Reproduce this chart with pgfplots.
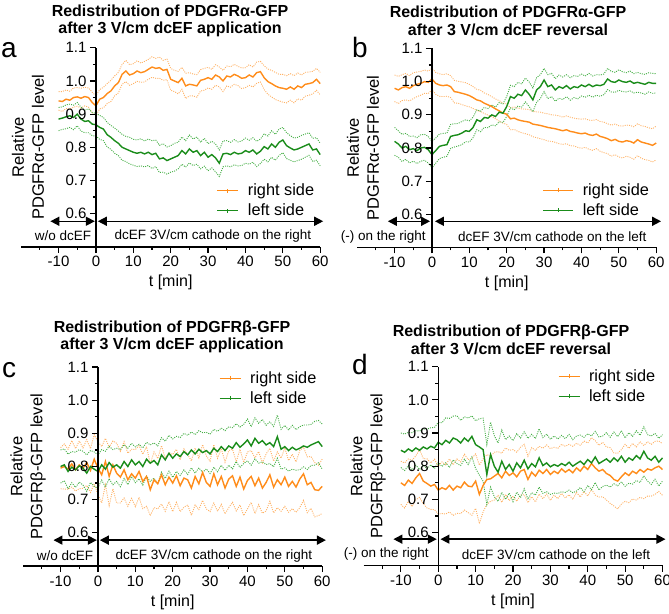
\documentclass[border=0pt]{standalone}
\usepackage{pgfplots}
\pgfplotsset{compat=1.18}
\usepackage{pgfplotstable}
\usepackage{fontspec}
\setmainfont{Liberation Sans}
\usetikzlibrary{arrows.meta}
\definecolor{orM}{RGB}{255,140,26}
\definecolor{orL}{RGB}{255,178,102}
\definecolor{grM}{RGB}{26,140,26}
\definecolor{grL}{RGB}{70,175,70}

\pgfplotstableread{
t rm rs lm ls
-10 0.940 0.028 0.885 0.035
-9 0.938 0.030 0.888 0.034
-8 0.945 0.028 0.892 0.036
-7 0.942 0.027 0.895 0.035
-6 0.950 0.029 0.890 0.037
-5 0.952 0.028 0.900 0.035
-4 0.948 0.030 0.885 0.036
-3 0.953 0.028 0.878 0.034
-2 0.950 0.029 0.880 0.036
-1 0.935 0.031 0.870 0.035
0 0.925 0.030 0.868 0.034
1 0.945 0.029 0.860 0.036
2 0.950 0.031 0.855 0.035
3 0.962 0.030 0.838 0.037
4 0.970 0.032 0.830 0.036
5 0.985 0.030 0.820 0.038
6 0.995 0.031 0.812 0.037
7 1.020 0.030 0.800 0.039
8 1.030 0.032 0.795 0.038
9 1.018 0.031 0.790 0.040
10 1.022 0.030 0.785 0.039
11 1.030 0.031 0.782 0.040
12 1.025 0.029 0.785 0.041
13 1.028 0.031 0.780 0.039
14 1.035 0.030 0.785 0.040
15 1.042 0.031 0.778 0.042
16 1.038 0.030 0.782 0.040
17 1.040 0.032 0.765 0.041
18 1.032 0.030 0.768 0.043
19 1.035 0.031 0.760 0.041
20 1.005 0.033 0.765 0.040
21 1.000 0.032 0.770 0.042
22 0.995 0.034 0.775 0.040
23 1.008 0.033 0.790 0.041
24 0.985 0.038 0.780 0.040
25 0.990 0.035 0.795 0.042
26 0.988 0.033 0.785 0.040
27 0.985 0.034 0.790 0.041
28 1.002 0.032 0.775 0.040
29 1.005 0.033 0.785 0.042
30 1.010 0.031 0.770 0.041
31 1.005 0.030 0.778 0.040
32 1.018 0.031 0.768 0.042
33 1.012 0.030 0.752 0.040
34 1.000 0.032 0.780 0.039
35 1.015 0.030 0.782 0.038
36 1.012 0.031 0.778 0.037
37 1.020 0.030 0.785 0.038
38 1.015 0.029 0.780 0.036
39 1.008 0.031 0.782 0.037
40 1.010 0.030 0.790 0.038
41 1.018 0.031 0.785 0.036
42 1.012 0.030 0.792 0.037
43 1.025 0.032 0.780 0.038
44 1.028 0.031 0.788 0.037
45 1.010 0.036 0.802 0.038
46 0.998 0.038 0.795 0.039
47 0.992 0.040 0.810 0.040
48 0.985 0.041 0.800 0.039
49 0.980 0.040 0.815 0.040
50 0.978 0.042 0.822 0.038
51 0.975 0.041 0.805 0.039
52 0.982 0.040 0.798 0.037
53 0.975 0.041 0.792 0.036
54 0.985 0.039 0.795 0.035
55 0.980 0.038 0.800 0.036
56 0.990 0.036 0.805 0.035
57 0.992 0.035 0.810 0.034
58 0.995 0.034 0.792 0.035
59 1.005 0.033 0.795 0.034
60 0.992 0.034 0.778 0.034
}\dA

\pgfplotstableread{
t rm rs lm ls
-10 0.980 0.040 0.820 0.042
-9 0.975 0.041 0.812 0.040
-8 0.982 0.039 0.800 0.041
-7 0.985 0.040 0.805 0.039
-6 0.980 0.038 0.795 0.040
-5 0.988 0.039 0.798 0.038
-4 0.992 0.037 0.792 0.039
-3 0.995 0.036 0.800 0.040
-2 1.000 0.035 0.802 0.039
-1 0.998 0.034 0.795 0.040
0 1.008 0.032 0.780 0.040
1 0.995 0.033 0.792 0.038
2 0.990 0.034 0.805 0.037
3 0.988 0.033 0.808 0.036
4 0.990 0.034 0.810 0.035
5 0.985 0.033 0.835 0.036
6 0.970 0.034 0.838 0.035
7 0.968 0.033 0.840 0.034
8 0.965 0.034 0.845 0.035
9 0.962 0.035 0.852 0.033
10 0.958 0.034 0.850 0.032
11 0.952 0.033 0.862 0.031
12 0.945 0.032 0.885 0.030
13 0.942 0.032 0.880 0.031
14 0.935 0.031 0.892 0.030
15 0.930 0.031 0.890 0.029
16 0.925 0.030 0.900 0.030
17 0.918 0.030 0.895 0.028
18 0.912 0.031 0.908 0.029
19 0.905 0.030 0.905 0.028
20 0.902 0.031 0.925 0.030
21 0.888 0.033 0.955 0.034
22 0.890 0.034 0.950 0.035
23 0.885 0.035 0.962 0.036
24 0.882 0.036 0.958 0.035
25 0.880 0.037 0.975 0.036
26 0.878 0.038 0.962 0.037
27 0.872 0.038 0.945 0.036
28 0.870 0.039 0.975 0.037
29 0.868 0.040 0.985 0.036
30 0.865 0.040 1.005 0.035
31 0.862 0.041 0.985 0.036
32 0.860 0.040 0.990 0.035
33 0.858 0.041 0.975 0.034
34 0.855 0.042 0.985 0.035
35 0.852 0.041 0.980 0.034
36 0.855 0.042 0.988 0.033
37 0.850 0.043 0.978 0.034
38 0.848 0.042 0.985 0.033
39 0.845 0.043 0.982 0.034
40 0.843 0.044 0.990 0.033
41 0.845 0.043 0.985 0.032
42 0.840 0.044 0.992 0.033
43 0.838 0.045 0.985 0.032
44 0.842 0.044 0.990 0.031
45 0.835 0.045 0.988 0.032
46 0.832 0.046 0.992 0.031
47 0.828 0.045 1.008 0.032
48 0.822 0.047 1.000 0.031
49 0.826 0.046 0.998 0.030
50 0.820 0.047 1.005 0.031
51 0.818 0.048 1.000 0.030
52 0.822 0.047 0.998 0.029
53 0.820 0.048 1.002 0.030
54 0.815 0.049 0.995 0.029
55 0.825 0.048 0.998 0.030
56 0.818 0.049 0.995 0.029
57 0.815 0.050 0.992 0.030
58 0.812 0.049 0.998 0.029
59 0.808 0.050 0.995 0.030
60 0.815 0.051 0.995 0.029
}\dB

\pgfplotstableread{
t rm rs lm ls
-10 0.795 0.062 0.800 0.050
-9 0.800 0.068 0.805 0.048
-8 0.792 0.060 0.785 0.052
-7 0.808 0.070 0.798 0.047
-6 0.790 0.064 0.790 0.053
-5 0.805 0.072 0.802 0.049
-4 0.795 0.061 0.795 0.051
-3 0.812 0.069 0.780 0.055
-2 0.788 0.066 0.800 0.048
-1 0.822 0.074 0.792 0.052
0 0.795 0.080 0.785 0.050
1 0.775 0.085 0.805 0.046
2 0.815 0.070 0.792 0.054
3 0.770 0.088 0.812 0.049
4 0.805 0.072 0.798 0.053
5 0.780 0.090 0.805 0.050
6 0.768 0.078 0.795 0.056
7 0.790 0.085 0.815 0.051
8 0.760 0.080 0.800 0.055
9 0.778 0.074 0.820 0.050
10 0.765 0.086 0.805 0.054
11 0.785 0.078 0.815 0.052
12 0.755 0.082 0.800 0.056
13 0.770 0.090 0.822 0.051
14 0.730 0.078 0.810 0.055
15 0.760 0.084 0.818 0.053
16 0.748 0.076 0.805 0.057
17 0.775 0.088 0.835 0.052
18 0.745 0.080 0.820 0.056
19 0.768 0.074 0.840 0.054
20 0.750 0.086 0.825 0.058
21 0.772 0.080 0.838 0.053
22 0.742 0.078 0.830 0.057
23 0.765 0.088 0.845 0.055
24 0.760 0.076 0.835 0.059
25 0.735 0.082 0.850 0.054
26 0.770 0.086 0.838 0.058
27 0.748 0.078 0.852 0.056
28 0.782 0.084 0.842 0.060
29 0.752 0.080 0.848 0.055
30 0.740 0.076 0.838 0.059
31 0.778 0.088 0.855 0.057
32 0.745 0.080 0.845 0.061
33 0.770 0.084 0.860 0.056
34 0.735 0.078 0.848 0.060
35 0.762 0.086 0.862 0.058
36 0.772 0.080 0.855 0.062
37 0.740 0.074 0.872 0.057
38 0.768 0.084 0.858 0.061
39 0.732 0.080 0.868 0.059
40 0.758 0.086 0.880 0.063
41 0.770 0.078 0.862 0.058
42 0.742 0.084 0.885 0.062
43 0.765 0.080 0.870 0.060
44 0.735 0.076 0.878 0.064
45 0.752 0.086 0.865 0.059
46 0.775 0.080 0.872 0.063
47 0.738 0.078 0.860 0.061
48 0.760 0.084 0.890 0.065
49 0.745 0.080 0.852 0.060
50 0.768 0.088 0.860 0.064
51 0.740 0.078 0.848 0.062
52 0.755 0.082 0.858 0.066
53 0.738 0.076 0.850 0.061
54 0.762 0.086 0.855 0.065
55 0.778 0.080 0.862 0.063
56 0.745 0.084 0.858 0.067
57 0.752 0.078 0.865 0.062
58 0.730 0.082 0.870 0.066
59 0.728 0.076 0.875 0.064
60 0.740 0.082 0.860 0.068
}\dC

\pgfplotstableread{
t rm rs lm ls
-10 0.750 0.065 0.848 0.052
-9 0.742 0.068 0.842 0.055
-8 0.758 0.064 0.852 0.050
-7 0.748 0.070 0.845 0.056
-6 0.765 0.066 0.855 0.052
-5 0.778 0.072 0.848 0.058
-4 0.755 0.068 0.858 0.054
-3 0.748 0.074 0.852 0.060
-2 0.740 0.070 0.860 0.056
-1 0.745 0.076 0.855 0.062
0 0.728 0.072 0.872 0.060
1 0.735 0.078 0.865 0.066
2 0.730 0.074 0.878 0.068
3 0.742 0.080 0.870 0.074
4 0.728 0.076 0.885 0.066
5 0.740 0.082 0.880 0.072
6 0.735 0.078 0.870 0.068
7 0.752 0.084 0.885 0.064
8 0.740 0.080 0.875 0.070
9 0.738 0.086 0.890 0.062
10 0.755 0.082 0.865 0.072
11 0.715 0.088 0.858 0.085
12 0.742 0.080 0.850 0.095
13 0.760 0.075 0.775 0.090
14 0.762 0.068 0.835 0.098
15 0.770 0.072 0.800 0.092
16 0.778 0.066 0.782 0.088
17 0.765 0.074 0.815 0.094
18 0.785 0.070 0.790 0.090
19 0.772 0.076 0.805 0.086
20 0.780 0.070 0.785 0.092
21 0.768 0.074 0.810 0.088
22 0.785 0.072 0.795 0.090
23 0.790 0.076 0.818 0.086
24 0.760 0.070 0.792 0.092
25 0.782 0.074 0.808 0.088
26 0.770 0.078 0.798 0.085
27 0.788 0.072 0.825 0.088
28 0.778 0.076 0.802 0.084
29 0.790 0.074 0.810 0.087
30 0.775 0.078 0.798 0.083
31 0.785 0.072 0.805 0.086
32 0.778 0.076 0.800 0.082
33 0.792 0.074 0.808 0.085
34 0.782 0.078 0.802 0.081
35 0.790 0.076 0.812 0.084
36 0.780 0.080 0.800 0.080
37 0.795 0.074 0.808 0.083
38 0.785 0.078 0.815 0.079
39 0.800 0.076 0.805 0.082
40 0.790 0.080 0.820 0.078
41 0.808 0.078 0.810 0.081
42 0.795 0.082 0.828 0.077
43 0.785 0.078 0.808 0.080
44 0.790 0.082 0.815 0.076
45 0.778 0.080 0.822 0.079
46 0.772 0.084 0.812 0.075
47 0.760 0.080 0.825 0.078
48 0.755 0.084 0.815 0.074
49 0.768 0.082 0.830 0.077
50 0.780 0.086 0.812 0.073
51 0.772 0.082 0.825 0.076
52 0.785 0.084 0.818 0.072
53 0.778 0.080 0.832 0.075
54 0.790 0.084 0.822 0.071
55 0.782 0.080 0.845 0.074
56 0.792 0.082 0.825 0.070
57 0.788 0.078 0.818 0.073
58 0.795 0.080 0.830 0.069
59 0.800 0.076 0.812 0.072
60 0.790 0.078 0.825 0.070
}\dD

\tikzset{
  arr/.style={line width=1.5pt, {Triangle[length=9pt,width=9pt]}-{Triangle[length=9pt,width=9pt]}},
  ann/.style={font=\fontsize{13.5}{16}\selectfont, inner sep=0pt},
  band/.style={line width=0.9pt, dash pattern=on 1pt off 1.2pt},
}
\pgfplotsset{
  panel/.style={
    scale only axis, width=299pt, height=199pt, anchor=south west,
    xmin=-20, xmax=60, ymin=0.5, ymax=1.1,
    axis x line=bottom, axis y line=middle, axis on top, clip=false,
    axis line style={line width=1.5pt, -, black},
    tick align=outside,
    major tick length=6pt, minor tick length=3pt,
    tick style={black, line width=1.2pt},
    xtick={-10,0,10,20,30,40,50,60}, xticklabels={-10,0,10,20,30,40,50,60},
    minor xtick={-15,-5,5,15,25,35,45,55},
    ytick={0.6,0.7,0.8,0.9,1.0,1.1}, yticklabels={0.6,0.7,0.8,0.9,1.0,1.1},
    minor ytick={0.65,0.75,0.85,0.95,1.05},
    hide obscured x ticks=false, hide obscured y ticks=false,
    tick label style={font=\fontsize{15}{18}\selectfont},
    xlabel={t [min]},
    every axis x label/.style={at={(axis description cs:0.5,0)}, anchor=center, yshift=-36pt, font=\fontsize{16}{19}\selectfont},
    every axis y label/.style={anchor=center, rotate=90, align=center, font=\fontsize{16.5}{20}\selectfont},
    legend style={draw=none, fill=none, anchor=west, inner sep=0pt, row sep=2.5pt,
      font=\fontsize{16.3}{19}\selectfont,
      /tikz/every odd column/.append style={column sep=7pt}},
    legend cell align=left,
    leglen/.style={legend image code/.code={\draw[####1,line width=1pt] (0pt,0pt)--(##1,0pt); \draw[####1,line width=1pt] ($(0pt,-2pt)!0.5!(##1,-2pt)$)--++(0pt,4pt);}},
    leglen=21pt,
  },
  mean/.style={line width=1.4pt},
}
\usetikzlibrary{calc}

\begin{document}
\begin{tikzpicture}
\useasboundingbox (0pt,0pt) rectangle (669pt,613pt);

% titles and letters
\node[font=\bfseries\fontsize{16}{17.5}\selectfont, align=center] at (170pt,592pt) {Redistribution of PDGFRα-GFP\\after 3 V/cm dcEF application};
\node[font=\bfseries\fontsize{16}{17.5}\selectfont, align=center] at (508pt,592pt) {Redistribution of PDGFRα-GFP\\after 3 V/cm dcEF reversal};
\node[font=\bfseries\fontsize{16}{17.5}\selectfont, align=center] at (172pt,276pt) {Redistribution of PDGFRβ-GFP\\after 3 V/cm dcEF application};
\node[font=\bfseries\fontsize{16}{17.5}\selectfont, align=center] at (511pt,273pt) {Redistribution of PDGFRβ-GFP\\after 3 V/cm dcEF reversal};
\node[font=\fontsize{28}{30}\selectfont, anchor=base, inner sep=0pt] at (9pt,555pt) {a};
\node[font=\fontsize{28}{30}\selectfont, anchor=base, inner sep=0pt] at (360pt,555pt) {b};
\node[font=\fontsize{28}{30}\selectfont, anchor=base, inner sep=0pt] at (9pt,235pt) {c};
\node[font=\fontsize{28}{30}\selectfont, anchor=base, inner sep=0pt] at (360pt,238pt) {d};

% ---------- a ----------
\begin{axis}[panel, at={(21.2pt,366.2pt)},
  ylabel={Relative\\PDGFRα-GFP level},
  ylabel style={at={(axis description cs:0.023,0.5)}},
  legend style={at={(axis description cs:0.654,0.232)}}]
\addplot[orL, band, forget plot] table[x=t, y expr=\thisrow{rm}+\thisrow{rs}] {\dA};
\addplot[orL, band, forget plot] table[x=t, y expr=\thisrow{rm}-\thisrow{rs}] {\dA};
\addplot[grL, band, forget plot] table[x=t, y expr=\thisrow{lm}+\thisrow{ls}] {\dA};
\addplot[grL, band, forget plot] table[x=t, y expr=\thisrow{lm}-\thisrow{ls}] {\dA};
\addplot[orM, mean] table[x=t, y=rm] {\dA};
\addlegendentry{right side}
\addplot[grM, mean] table[x=t, y=lm] {\dA};
\addlegendentry{left side}
\draw[arr] (axis cs:-12.2,0.577) -- (axis cs:-0.3,0.577);
\draw[arr] (axis cs:0.5,0.577) -- (axis cs:60.8,0.577);
\node[ann] at (axis cs:-8.8,0.534) {w/o dcEF};
\node[ann] at (axis cs:31.3,0.534) {dcEF 3V/cm cathode on the right};
\end{axis}

% ---------- b ----------
\begin{axis}[panel, at={(357.2pt,365.5pt)}, leglen=30pt,
  ylabel={Relative\\PDGFRα-GFP level},
  ylabel style={at={(axis description cs:0.019,0.5)}},
  legend style={at={(axis description cs:0.62,0.238)}}]
\addplot[orL, band, forget plot] table[x=t, y expr=\thisrow{rm}+\thisrow{rs}] {\dB};
\addplot[orL, band, forget plot] table[x=t, y expr=\thisrow{rm}-\thisrow{rs}] {\dB};
\addplot[grL, band, forget plot] table[x=t, y expr=\thisrow{lm}+\thisrow{ls}] {\dB};
\addplot[grL, band, forget plot] table[x=t, y expr=\thisrow{lm}-\thisrow{ls}] {\dB};
\addplot[orM, mean] table[x=t, y=rm] {\dB};
\addlegendentry{right side}
\addplot[grM, mean] table[x=t, y=lm] {\dB};
\addlegendentry{left side}
\draw[arr] (axis cs:-11.8,0.579) -- (axis cs:-0.5,0.579);
\draw[arr] (axis cs:0.8,0.579) -- (axis cs:61.3,0.579);
\node[ann] at (axis cs:-13,0.533) {(-) on the right};
\node[ann] at (axis cs:32.2,0.533) {dcEF 3V/cm cathode on the left};
\end{axis}

% ---------- c ----------
\begin{axis}[panel, at={(23.2pt,47pt)},
  ylabel={Relative\\PDGFRβ-GFP level},
  ylabel style={at={(axis description cs:0.016,0.5)}},
  legend style={at={(axis description cs:0.655,0.893)}}]
\addplot[orL, band, forget plot] table[x=t, y expr=\thisrow{rm}+\thisrow{rs}] {\dC};
\addplot[orL, band, forget plot] table[x=t, y expr=\thisrow{rm}-\thisrow{rs}] {\dC};
\addplot[grL, band, forget plot] table[x=t, y expr=\thisrow{lm}+\thisrow{ls}] {\dC};
\addplot[grL, band, forget plot] table[x=t, y expr=\thisrow{lm}-\thisrow{ls}] {\dC};
\addplot[orM, mean] table[x=t, y=rm] {\dC};
\addlegendentry{right side}
\addplot[grM, mean] table[x=t, y=lm] {\dC};
\addlegendentry{left side}
\draw[arr] (axis cs:-11.9,0.578) -- (axis cs:-0.3,0.578);
\draw[arr] (axis cs:0.5,0.578) -- (axis cs:61,0.578);
\node[ann] at (axis cs:-8.8,0.531) {w/o dcEF};
\node[ann] at (axis cs:31,0.531) {dcEF 3V/cm cathode on the right};
\end{axis}

% ---------- d ----------
\begin{axis}[panel, at={(363.5pt,47.3pt)},
  ylabel={Relative\\PDGFRβ-GFP level},
  ylabel style={at={(axis description cs:0.015,0.5)}},
  legend style={at={(axis description cs:0.65,0.902)}}]
\addplot[orL, band, forget plot] table[x=t, y expr=\thisrow{rm}+\thisrow{rs}] {\dD};
\addplot[orL, band, forget plot] table[x=t, y expr=\thisrow{rm}-\thisrow{rs}] {\dD};
\addplot[grL, band, forget plot] table[x=t, y expr=\thisrow{lm}+\thisrow{ls}] {\dD};
\addplot[grL, band, forget plot] table[x=t, y expr=\thisrow{lm}-\thisrow{ls}] {\dD};
\addplot[orM, mean] table[x=t, y=rm] {\dD};
\addlegendentry{right side}
\addplot[grM, mean] table[x=t, y=lm] {\dD};
\addlegendentry{left side}
\draw[arr] (axis cs:-12,0.58) -- (axis cs:-0.4,0.58);
\draw[arr] (axis cs:0.6,0.58) -- (axis cs:60.8,0.58);
\node[ann] at (axis cs:-13.9,0.534) {(-) on the right};
\node[ann] at (axis cs:31.5,0.534) {dcEF 3V/cm cathode on the left};
\end{axis}
\end{tikzpicture}
\end{document}
